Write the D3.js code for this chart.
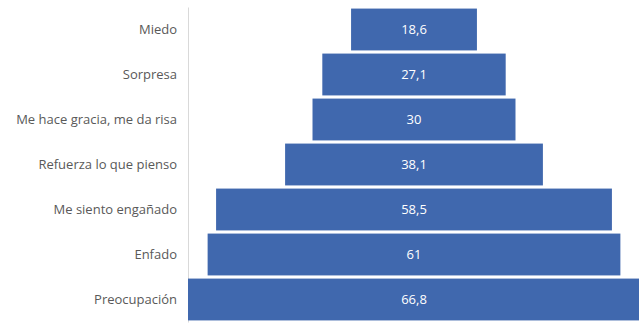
<!DOCTYPE html>
<html>
<head>
<meta charset="utf-8">
<script src="https://cdn.jsdelivr.net/npm/d3@7"></script>
<style>
  body { margin: 0; background: #fff; }
  svg { display: block; }
</style>
</head>
<body>
<svg class="chart"></svg>
<script>
// datos
const categories = ["Miedo", "Sorpresa", "Me hace gracia, me da risa", "Refuerza lo que pienso",
                    "Me siento engañado", "Enfado", "Preocupación"];
const values = [18.6, 27.1, 30, 38.1, 58.5, 61, 66.8];
const valueLabels = ["18,6", "27,1", "30", "38,1", "58,5", "61", "66,8"];

const width = 639, height = 323;
const margin = {top: 7, right: 0, bottom: 1, left: 188};
const plotW = 452;
const cx = margin.left + plotW / 2;

const svg = d3.select(".chart").attr("width", width).attr("height", height);

const x = d3.scaleLinear().domain([0, d3.max(values)]).range([0, plotW]);
const y = d3.scaleBand().domain(categories)
  .range([margin.top, height - margin.bottom])
  .paddingInner(0.07).paddingOuter(0.035);

// eje vertical
const yAxis = d3.axisLeft(y).tickSize(0).tickPadding(11);
const gy = svg.append("g").attr("transform", "translate(" + margin.left + ",0)").call(yAxis);
gy.select(".domain").attr("stroke", "#d9d9d9").attr("stroke-width", 1);
gy.selectAll("text")
  .attr("fill", "#595959")
  .style("font-family", "'Open Sans', sans-serif")
  .style("font-size", "13px");

const bars = svg.append("g");
bars.selectAll("rect")
  .data(values)
  .enter().append("rect")
  .attr("x", d => cx - x(d) / 2)
  .attr("y", (d, i) => y(categories[i]))
  .attr("width", d => x(d))
  .attr("height", y.bandwidth())
  .attr("fill", "#4068ae");

bars.selectAll("text")
  .data(values)
  .enter().append("text")
  .attr("x", cx)
  .attr("y", (d, i) => y(categories[i]) + y.bandwidth() / 2)
  .attr("dy", "0.35em")
  .attr("text-anchor", "middle")
  .attr("fill", "#ffffff")
  .style("font-family", "'Open Sans', sans-serif")
  .style("font-size", "13px")
  .text((d, i) => valueLabels[i]);
</script>
</body>
</html>
